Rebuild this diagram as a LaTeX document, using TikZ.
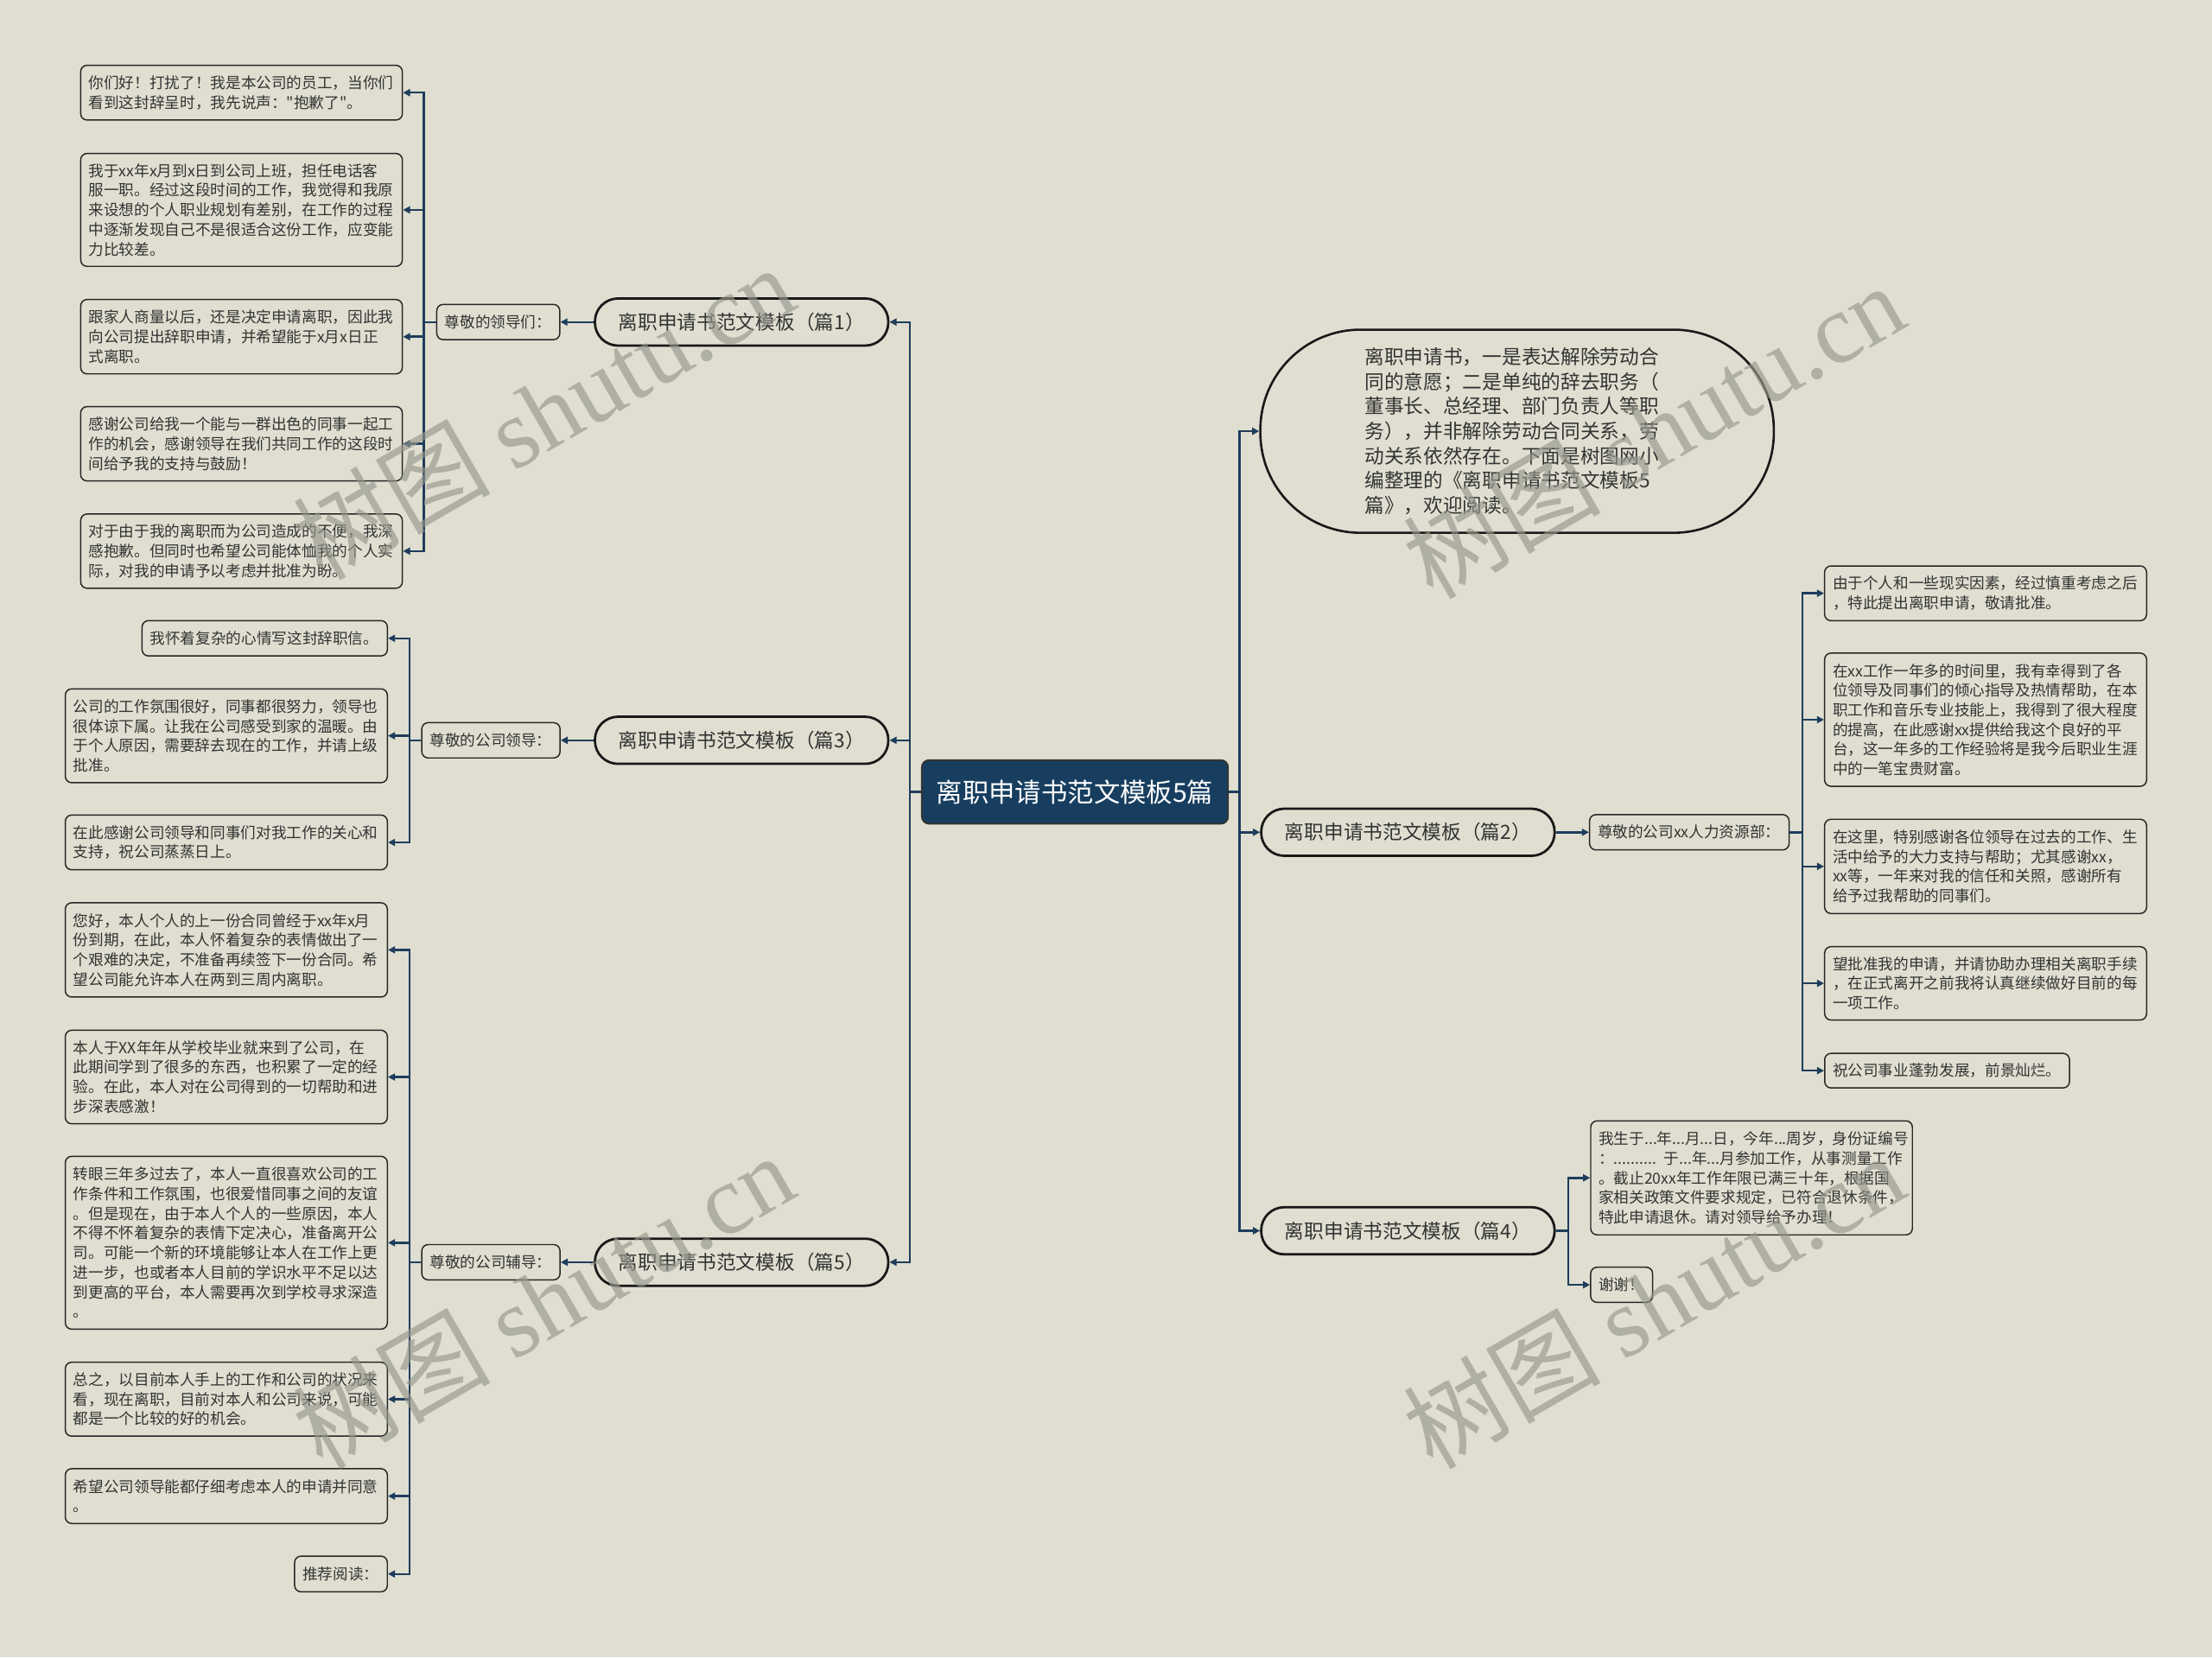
\documentclass[tikz,border=0pt]{standalone}
\usepackage{fontspec}
\newfontfamily\cjk{Noto Sans CJK SC}
\newfontfamily\wmlat{Liberation Serif}
\usetikzlibrary{arrows.meta}
\definecolor{bgc}{HTML}{DFDED0}
\definecolor{navy}{HTML}{1E3D5C}
\definecolor{cfill}{HTML}{173E5F}
\definecolor{txt}{HTML}{333333}
\definecolor{wmc}{RGB}{150,150,140}
\begin{document}
\begin{tikzpicture}[x=1pt,y=-1pt,
  every node/.style={font=\cjk},
  box/.style={draw=black!85, line width=0.9pt, rounded corners=4.5pt, fill=bgc, text=txt,
    inner xsep=5.7pt, inner ysep=0pt, align=left, font=\cjk\fontsize{10.8}{13.9}\selectfont},
  branch/.style={draw=black!90, line width=1.7pt, rounded corners=16.4pt, fill=bgc, text=txt,
    minimum width=208pt, minimum height=33.4pt, inner sep=0pt, font=\cjk\fontsize{13.9}{17}\selectfont},
  rootbox/.style={draw=black!80, line width=1.2pt, rounded corners=5pt, fill=cfill, text=white,
    minimum width=217pt, minimum height=45pt, inner sep=0pt, font=\cjk\fontsize{18.6}{22}\selectfont},
  introbox/.style={draw=black!90, line width=1.6pt, rounded corners=71pt, fill=bgc, text=txt,
    minimum width=364pt, minimum height=144pt, text width=216pt, align=left, inner sep=0pt,
    font=\cjk\fontsize{13.9}{17.6}\selectfont},
  conn/.style={draw=navy, line width=1.5pt},
  arr/.style={conn, -{Triangle[length=5pt,width=5pt]}},
  wmark/.style={text=wmc, text opacity=0.65, inner sep=0pt, rotate=30, font=\cjk\fontsize{70}{70}\selectfont}
]
\fill[bgc] (0,0) rectangle (1568,1175);
\useasboundingbox (0,0) rectangle (1568,1175);

% root and branches
\node[rootbox] (root) at (762,561.4) {离职申请书范文模板5篇};
\node[branch] (b1) at (525.7,228.3) {离职申请书范文模板（篇1）};
\node[branch] (b3) at (525.7,524.8) {离职申请书范文模板（篇3）};
\node[branch] (b5) at (525.7,894.8) {离职申请书范文模板（篇5）};
\node[branch] (b2) at (998,590) {离职申请书范文模板（篇2）};
\node[branch] (b4) at (998,872.5) {离职申请书范文模板（篇4）};
\node[introbox] (intro) at (1075.4,305.7) {离职申请书，一是表达解除劳动合\\同的意愿；二是单纯的辞去职务（\\董事长、总经理、部门负责人等职\\务），并非解除劳动合同关系，劳\\动关系依然存在。下面是树图网小\\编整理的《离职申请书范文模板5\\篇》，欢迎阅读。};

% sub nodes
\node[box, text width=75.8pt, minimum height=25pt] (s1) at (353.2,228.3) {尊敬的领导们：};
\node[box, text width=86.6pt, minimum height=25pt] (s3) at (348,524.8) {尊敬的公司领导：};
\node[box, text width=86.6pt, minimum height=25pt] (s5) at (348,894.8) {尊敬的公司辅导：};
\node[box, text width=130pt, minimum height=25pt] (s2) at (1197.5,590) {尊敬的公司xx人力资源部：};

% group 1 leaves
\node[box, text width=216.6pt, minimum height=38.8pt] (L1) at (171.2,65.7) {你们好！打扰了！我是本公司的员工，当你们\\看到这封辞呈时，我先说声："抱歉了"。};
\node[box, text width=216.6pt, minimum height=80pt] (L2) at (171.2,148.8) {我于xx年x月到x日到公司上班，担任电话客\\服一职。经过这段时间的工作，我觉得和我原\\来设想的个人职业规划有差别，在工作的过程\\中逐渐发现自己不是很适合这份工作，应变能\\力比较差。};
\node[box, text width=216.6pt, minimum height=52.7pt] (L3) at (171.2,238.7) {跟家人商量以后，还是决定申请离职，因此我\\向公司提出辞职申请，并希望能于x月x日正\\式离职。};
\node[box, text width=216.6pt, minimum height=52.7pt] (L4) at (171.2,314.6) {感谢公司给我一个能与一群出色的同事一起工\\作的机会，感谢领导在我们共同工作的这段时\\间给予我的支持与鼓励！};
\node[box, text width=216.6pt, minimum height=52.6pt] (L5) at (171.2,390.7) {对于由于我的离职而为公司造成的不便，我深\\感抱歉。但同时也希望公司能体恤我的个人实\\际，对我的申请予以考虑并批准为盼。};

% group 3 leaves
\node[box, text width=162.5pt, minimum height=25pt] (M1) at (187.65,452.5) {我怀着复杂的心情写这封辞职信。};
\node[box, text width=216.9pt, minimum height=66.5pt] (M2) at (160.45,521.6) {公司的工作氛围很好，同事都很努力，领导也\\很体谅下属。让我在公司感受到家的温暖。由\\于个人原因，需要辞去现在的工作，并请上级\\批准。};
\node[box, text width=216.9pt, minimum height=38.8pt] (M3) at (160.45,597.2) {在此感谢公司领导和同事们对我工作的关心和\\支持，祝公司蒸蒸日上。};

% group 5 leaves
\node[box, text width=216.9pt, minimum height=66.8pt] (N1) at (160.45,673.4) {您好，本人个人的上一份合同曾经于xx年x月\\份到期，在此，本人怀着复杂的表情做出了一\\个艰难的决定，不准备再续签下一份合同。希\\望公司能允许本人在两到三周内离职。};
\node[box, text width=216.9pt, minimum height=66.3pt] (N2) at (160.45,763.5) {本人于XX年年从学校毕业就来到了公司，在\\此期间学到了很多的东西，也积累了一定的经\\验。在此，本人对在公司得到的一切帮助和进\\步深表感激！};
\node[box, text width=216.9pt, minimum height=122.5pt] (N3) at (160.45,881) {转眼三年多过去了，本人一直很喜欢公司的工\\作条件和工作氛围，也很爱惜同事之间的友谊\\。但是现在，由于本人个人的一些原因，本人\\不得不怀着复杂的表情下定决心，准备离开公\\司。可能一个新的环境能够让本人在工作上更\\进一步，也或者本人目前的学识水平不足以达\\到更高的平台，本人需要再次到学校寻求深造\\。};
\node[box, text width=216.9pt, minimum height=52.4pt] (N4) at (160.45,991.9) {总之，以目前本人手上的工作和公司的状况来\\看，现在离职，目前对本人和公司来说，可能\\都是一个比较的好的机会。};
\node[box, text width=216.9pt, minimum height=38.8pt] (N5) at (160.45,1060.6) {希望公司领导能都仔细考虑本人的申请并同意\\。};
\node[box, text width=54.3pt, minimum height=25.3pt] (N6) at (241.7,1115.8) {推荐阅读：};

% group 2 leaves
\node[box, text width=216.8pt, minimum height=38.8pt] (R1) at (1407.5,420.6) {由于个人和一些现实因素，经过慎重考虑之后\\，特此提出离职申请，敬请批准。};
\node[box, text width=216.8pt, minimum height=94.4pt] (R2) at (1407.5,510.2) {在xx工作一年多的时间里，我有幸得到了各\\位领导及同事们的倾心指导及热情帮助，在本\\职工作和音乐专业技能上，我得到了很大程度\\的提高，在此感谢xx提供给我这个良好的平\\台，这一年多的工作经验将是我今后职业生涯\\中的一笔宝贵财富。};
\node[box, text width=216.8pt, minimum height=66.8pt] (R3) at (1407.5,614.2) {在这里，特别感谢各位领导在过去的工作、生\\活中给予的大力支持与帮助；尤其感谢xx，\\xx等，一年来对我的信任和关照，感谢所有\\给予过我帮助的同事们。};
\node[box, text width=216.8pt, minimum height=52pt] (R4) at (1407.5,697.1) {望批准我的申请，并请协助办理相关离职手续\\，在正式离开之前我将认真继续做好目前的每\\一项工作。};
\node[box, text width=162.1pt, minimum height=24.5pt] (R5) at (1380.2,759) {祝公司事业蓬勃发展，前景灿烂。};

% group 4 leaves
\node[box, text width=216.6pt, minimum height=80.8pt] (S1) at (1241.6,835) {我生于...年...月...日，今年...周岁，身份证编号\\：.......... 于...年...月参加工作，从事测量工作\\。截止20xx年工作年限已满三十年，根据国\\家相关政策文件要求规定，已符合退休条件，\\特此申请退休。请对领导给予办理！};
\node[box, text width=32.5pt, minimum height=24.9pt] (S2) at (1149.5,910.8) {谢谢！};

% junction coordinates
\coordinate (tL) at (645,561.4);
\coordinate (tR) at (878.7,561.4);
\coordinate (g1) at (300.5,228.3);
\coordinate (g3) at (290.2,524.8);
\coordinate (g5) at (290.2,894.8);
\coordinate (g2) at (1277.6,590);
\coordinate (g4) at (1111.7,872.5);

% root connectors
\draw[arr] (root.west) -- (tL) |- (b1.east);
\draw[arr] (tL) |- (b3.east);
\draw[arr] (tL) |- (b5.east);
\draw[arr] (root.east) -- (tR) |- (intro.west);
\draw[arr] (tR) |- (b2.east -| b2.west);
\draw[arr] (tR) |- (b4.west);

% branch to sub
\draw[arr] (b1.west) -- (s1.east);
\draw[arr] (b3.west) -- (s3.east);
\draw[arr] (b5.west) -- (s5.east);
\draw[arr] (b2.east) -- (s2.west);

% group brackets
\draw[conn] (s1.west) -- (g1);
\foreach \n in {L1,L2,L3,L4,L5} \draw[arr] (g1) |- (\n.east);
\draw[conn] (s3.west) -- (g3);
\foreach \n in {M1,M2,M3} \draw[arr] (g3) |- (\n.east);
\draw[conn] (s5.west) -- (g5);
\foreach \n in {N1,N2,N3,N4,N5,N6} \draw[arr] (g5) |- (\n.east);
\draw[conn] (s2.east) -- (g2);
\foreach \n in {R1,R2,R3,R4,R5} \draw[arr] (g2) |- (\n.west);
\draw[conn] (b4.east) -- (g4);
\foreach \n in {S1,S2} \draw[arr] (g4) |- (\n.west);

% watermarks
\node[wmark] (wm1) at (385,292) {树图 {\wmlat shutu.cn}};
\node[wmark] (wm2) at (385,922) {树图 {\wmlat shutu.cn}};
\node[wmark] (wm3) at (1172,305) {树图 {\wmlat shutu.cn}};
\node[wmark] (wm4) at (1172,922) {树图 {\wmlat shutu.cn}};
\end{tikzpicture}
\end{document}
